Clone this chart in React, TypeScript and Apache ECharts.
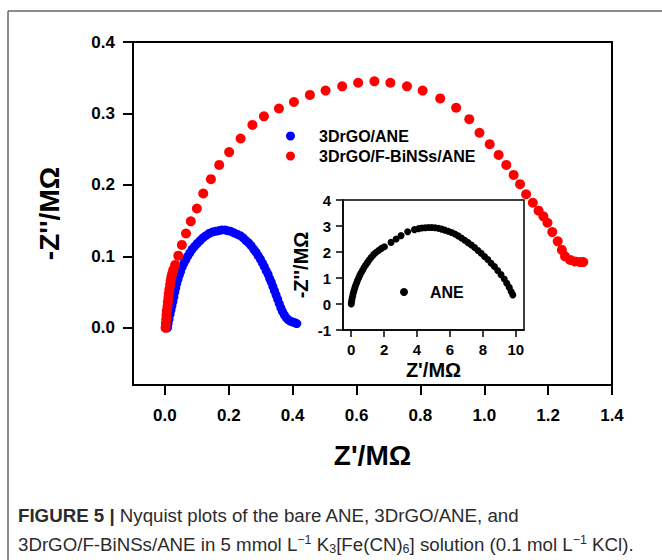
import React, { useEffect, useRef } from "react";
import * as echarts from "echarts";

const xTicks = [0, 0.2, 0.4, 0.6, 0.8, 1.0, 1.2, 1.4];
const yTicks = [0, 0.1, 0.2, 0.3, 0.4];
const insetXTicks = [0, 2, 4, 6, 8, 10];

const seriesNames = ["3DrGO/ANE", "3DrGO/F-BiNSs/ANE", "ANE"];

// 3DrGO/ANE  (Z'/MΩ, -Z''/MΩ)
const blueData: number[][] = [
  [0.008, 0.0], [0.01, 0.006], [0.013, 0.012], [0.016, 0.019], [0.019, 0.025], [0.022, 0.031],
  [0.025, 0.037], [0.028, 0.043], [0.031, 0.05], [0.034, 0.056], [0.037, 0.062], [0.041, 0.068],
  [0.045, 0.074], [0.049, 0.079], [0.054, 0.085], [0.059, 0.09], [0.065, 0.095], [0.071, 0.1],
  [0.078, 0.105], [0.085, 0.11], [0.093, 0.114], [0.101, 0.118], [0.11, 0.122], [0.119, 0.126],
  [0.128, 0.129], [0.138, 0.132], [0.148, 0.134], [0.158, 0.135], [0.168, 0.136], [0.178, 0.137],
  [0.188, 0.137], [0.196, 0.136], [0.206, 0.135], [0.216, 0.133], [0.226, 0.131], [0.236, 0.129],
  [0.245, 0.126], [0.254, 0.122], [0.262, 0.119], [0.27, 0.115], [0.278, 0.11], [0.285, 0.106],
  [0.292, 0.101], [0.299, 0.096], [0.305, 0.091], [0.311, 0.086], [0.317, 0.08], [0.323, 0.075],
  [0.328, 0.069], [0.333, 0.064], [0.338, 0.058], [0.343, 0.052], [0.348, 0.046], [0.353, 0.04],
  [0.358, 0.034], [0.363, 0.028], [0.368, 0.023], [0.374, 0.018], [0.38, 0.014], [0.387, 0.011],
  [0.394, 0.009], [0.401, 0.008], [0.408, 0.007], [0.413, 0.006],
];

// 3DrGO/F-BiNSs/ANE
const redData: number[][] = [
  [0.002, 0.0], [0.003, 0.006], [0.004, 0.012], [0.005, 0.018], [0.006, 0.024], [0.008, 0.03],
  [0.009, 0.036], [0.011, 0.042], [0.012, 0.048], [0.014, 0.054], [0.016, 0.06], [0.018, 0.066],
  [0.02, 0.071], [0.023, 0.076], [0.026, 0.081], [0.032, 0.088], [0.042, 0.101], [0.053, 0.116],
  [0.066, 0.132], [0.081, 0.149], [0.1, 0.167], [0.12, 0.188], [0.144, 0.208], [0.17, 0.228],
  [0.201, 0.246], [0.237, 0.265], [0.274, 0.284], [0.31, 0.296], [0.357, 0.307], [0.404, 0.316],
  [0.454, 0.326], [0.503, 0.332], [0.555, 0.338], [0.605, 0.343], [0.656, 0.345], [0.706, 0.343],
  [0.758, 0.338], [0.807, 0.332], [0.862, 0.321], [0.912, 0.308], [0.953, 0.292], [0.985, 0.273],
  [1.017, 0.257], [1.045, 0.242], [1.069, 0.228], [1.092, 0.214], [1.112, 0.201], [1.131, 0.187],
  [1.152, 0.175], [1.17, 0.164], [1.185, 0.156], [1.198, 0.147], [1.213, 0.134], [1.23, 0.121],
  [1.243, 0.109], [1.253, 0.1], [1.269, 0.095], [1.284, 0.093], [1.3, 0.092], [1.31, 0.092],
];

// ANE (inset)
const aneData: number[][] = [
  [0.0, 0.0], [0.02, 0.1], [0.05, 0.2], [0.08, 0.3], [0.12, 0.4], [0.16, 0.5], [0.21, 0.6],
  [0.26, 0.7], [0.32, 0.8], [0.38, 0.9], [0.45, 1.0], [0.52, 1.1], [0.6, 1.2], [0.69, 1.3],
  [0.78, 1.4], [0.88, 1.5], [0.99, 1.6], [1.1, 1.7], [1.22, 1.8], [1.36, 1.9], [1.5, 1.98],
  [1.66, 2.06], [1.84, 2.14], [2.02, 2.2], [2.42, 2.37], [2.73, 2.5], [3.03, 2.63], [3.43, 2.78],
  [3.84, 2.86], [4.1, 2.9], [4.3, 2.92], [4.5, 2.93], [4.7, 2.94], [4.9, 2.94], [5.1, 2.93],
  [5.3, 2.91], [5.5, 2.88], [5.7, 2.84], [5.9, 2.8], [6.1, 2.75], [6.3, 2.69], [6.5, 2.62],
  [6.7, 2.54], [6.9, 2.45], [7.1, 2.36], [7.3, 2.27], [7.5, 2.17], [7.7, 2.06], [7.9, 1.95],
  [8.1, 1.83], [8.3, 1.71], [8.5, 1.57], [8.7, 1.44], [8.9, 1.29], [9.1, 1.13], [9.3, 0.96],
  [9.45, 0.8], [9.6, 0.64], [9.72, 0.48], [9.82, 0.35],
];

const FONT = "'Liberation Sans', Arial, Helvetica, sans-serif";

export default function App() {
  const ref = useRef<HTMLDivElement>(null);
  useEffect(() => {
    if (!ref.current) return;
    const chart = echarts.init(ref.current, null, { renderer: "svg" });
    const tickStyle = { color: "#000", width: 2 };
    const mainLabel = { fontSize: 17, fontWeight: "bold", color: "#000", fontFamily: FONT };
    const insetLabel = { fontSize: 15, fontWeight: "bold", color: "#000", fontFamily: FONT };
    const capN = { fontSize: 18.7, fill: "#2b2b2b", fontFamily: FONT, lineHeight: 22 };
    chart.setOption({
      animation: false,
      backgroundColor: "#fff",
      textStyle: { fontFamily: FONT },
      grid: [
        { left: 133, top: 42, right: 50, bottom: 175, show: true, borderColor: "#000", borderWidth: 2 },
        { left: 343, top: 200, width: 181, height: 130, show: true, borderColor: "#000", borderWidth: 1.5 },
      ],
      xAxis: [
        {
          gridIndex: 0, type: "value", min: -0.1, max: 1.4,
          splitLine: { show: false },
          axisLine: { show: true, onZero: false, lineStyle: { color: "#000", width: 2 } },
          axisTick: { show: true, inside: false, length: 10, lineStyle: tickStyle, customValues: xTicks },
          axisLabel: { ...mainLabel, margin: 22, customValues: xTicks, formatter: (v: number) => v.toFixed(1) },
          name: "Z'/MΩ", nameLocation: "middle", nameGap: 56,
          nameTextStyle: { fontSize: 28, fontWeight: "bold", color: "#000", fontFamily: FONT },
        },
        {
          gridIndex: 1, type: "value", min: -0.5, max: 10.5,
          splitLine: { show: false },
          axisLine: { show: true, onZero: false, lineStyle: { color: "#000", width: 1.5 } },
          axisTick: { show: true, inside: false, length: 7, lineStyle: { color: "#000", width: 1.5 }, customValues: insetXTicks },
          axisLabel: { ...insetLabel, margin: 12, customValues: insetXTicks, formatter: (v: number) => String(v) },
          name: "Z'/MΩ", nameLocation: "middle", nameGap: 30,
          nameTextStyle: { fontSize: 20, fontWeight: "bold", color: "#000", fontFamily: FONT },
        },
      ],
      yAxis: [
        {
          gridIndex: 0, type: "value", min: -0.08, max: 0.4,
          splitLine: { show: false },
          axisLine: { show: true, onZero: false, lineStyle: { color: "#000", width: 2 } },
          axisTick: { show: true, inside: false, length: 10, lineStyle: tickStyle, customValues: yTicks },
          axisLabel: { ...mainLabel, margin: 18, customValues: yTicks, formatter: (v: number) => v.toFixed(1) },
          name: "-Z''/MΩ", nameLocation: "middle", nameGap: 70,
          nameTextStyle: { fontSize: 28, fontWeight: "bold", color: "#000", fontFamily: FONT },
        },
        {
          gridIndex: 1, type: "value", min: -1, max: 4, interval: 1,
          splitLine: { show: false },
          axisLine: { show: true, onZero: false, lineStyle: { color: "#000", width: 1.5 } },
          axisTick: { show: true, inside: false, length: 7, lineStyle: { color: "#000", width: 1.5 } },
          axisLabel: { ...insetLabel, margin: 12 },
          name: "-Z''/MΩ", nameLocation: "middle", nameGap: 32,
          nameTextStyle: { fontSize: 20, fontWeight: "bold", color: "#000", fontFamily: FONT },
        },
      ],
      legend: [
        {
          data: [seriesNames[0], seriesNames[1]], orient: "vertical", left: 286, top: 126, padding: 0,
          itemWidth: 9, itemHeight: 9, itemGap: 0, icon: "circle",
          textStyle: { fontSize: 16, fontWeight: "bold", color: "#000", lineHeight: 20, padding: [0, 0, 0, 19], fontFamily: FONT },
        },
        {
          data: [seriesNames[2]], orient: "vertical", left: 400, top: 282, padding: 0,
          itemWidth: 8, itemHeight: 8, itemGap: 0, icon: "circle",
          textStyle: { fontSize: 16, fontWeight: "bold", color: "#000", lineHeight: 20, padding: [0, 0, 0, 17], fontFamily: FONT },
        },
      ],
      series: [
        { type: "scatter", name: seriesNames[0], xAxisIndex: 0, yAxisIndex: 0, data: blueData, symbolSize: 9, itemStyle: { color: "#0000ff", opacity: 1 } },
        { type: "scatter", name: seriesNames[1], xAxisIndex: 0, yAxisIndex: 0, data: redData, symbolSize: 10, itemStyle: { color: "#ff0000", opacity: 1 } },
        { type: "scatter", name: seriesNames[2], xAxisIndex: 1, yAxisIndex: 1, data: aneData, symbolSize: 7, itemStyle: { color: "#000", opacity: 1 } },
      ],
      graphic: [
        { type: "line", shape: { x1: 8, y1: 11, x2: 662, y2: 11 }, style: { stroke: "#666", lineWidth: 1.5 }, silent: true },
        { type: "line", shape: { x1: 8, y1: 11, x2: 8, y2: 560 }, style: { stroke: "#666", lineWidth: 1.5 }, silent: true },
        {
          type: "text", left: 18, top: 506,
          style: {
            text: "{b|FIGURE 5 |}{n| Nyquist plots of the bare ANE, 3DrGO/ANE, and}",
            rich: {
              b: { ...capN, fontWeight: "bold" },
              n: capN,
            },
          },
        },
        {
          type: "text", left: 18, top: 533,
          style: {
            text: "{n|3DrGO/F-BiNSs/ANE in 5 mmol L}{sup|−1}{n| K}{sub|3}{n|[Fe(CN)}{sub|6}{n|] solution (0.1 mol L}{sup|−1}{n| KCl).}",
            rich: {
              n: capN,
              sup: { fontSize: 12.5, fill: "#2b2b2b", fontFamily: FONT, lineHeight: 12, verticalAlign: "top" },
              sub: { fontSize: 12.5, fill: "#2b2b2b", fontFamily: FONT, lineHeight: 12, verticalAlign: "bottom" },
            },
          },
        },
      ],
    });
    return () => chart.dispose();
  }, []);
  return <div ref={ref} style={{ position: "fixed", left: 0, top: 0, width: 662, height: 560 }} />;
}
